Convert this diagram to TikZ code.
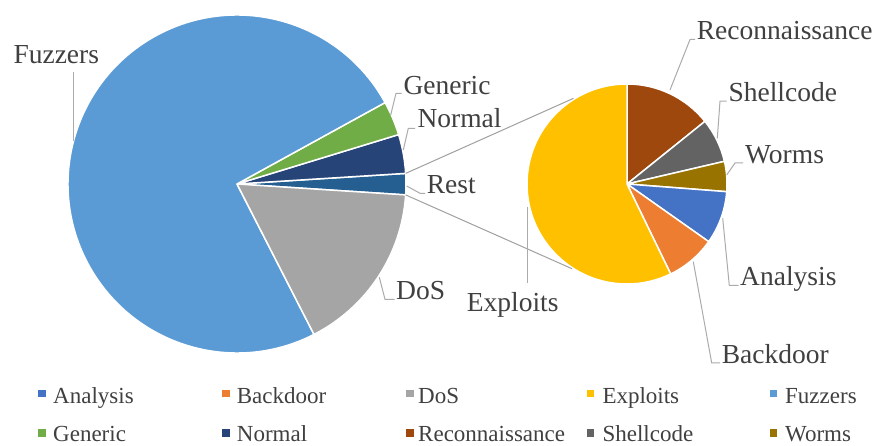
\documentclass[tikz,border=0pt]{standalone}
\usepackage{fontspec}
\setmainfont{Liberation Serif}
\usetikzlibrary{calc}
\definecolor{cAnalysis}{HTML}{4472C4}
\definecolor{cBackdoor}{HTML}{ED7D31}
\definecolor{cDoS}{HTML}{A5A5A5}
\definecolor{cExploits}{HTML}{FFC000}
\definecolor{cFuzzers}{HTML}{5B9BD5}
\definecolor{cGeneric}{HTML}{70AD47}
\definecolor{cNormal}{HTML}{264478}
\definecolor{cRecon}{HTML}{9E480E}
\definecolor{cShell}{HTML}{636363}
\definecolor{cWorms}{HTML}{997300}
\definecolor{cRest}{HTML}{255E91}
\definecolor{txt}{HTML}{404040}
\definecolor{ldr}{HTML}{ABABAB}
\definecolor{conn}{HTML}{A0A0A0}
\def\pieslice#1#2#3#4#5{\filldraw[slice, fill=#1] (#2) -- ++(#3:#5) arc[start angle=#3, end angle=#4, radius=#5] -- cycle;}
\begin{document}
\begin{tikzpicture}[x=1pt,y=1pt,
  lbl/.style={anchor=base west, inner sep=0pt, font=\fontsize{27.5}{30}\selectfont, text=txt},
  leg/.style={anchor=base west, inner sep=0pt, font=\fontsize{23}{25}\selectfont, text=txt},
  mk/.style={minimum size=7.5pt, inner sep=0pt, draw=none},
  leader/.style={draw=ldr, line width=1pt},
  connline/.style={draw=conn, line width=1pt},
  slice/.style={draw=white, line width=1.5pt, line join=round}]
\useasboundingbox (0,0) rectangle (879,445);
\fill[white] (0,0) rectangle (879,445);
% centres
\coordinate (bigc) at (237,261);
\coordinate (smc) at (627,261);
% big pie
\pieslice{cRest}{bigc}{-3.7}{3.6}{169}
\pieslice{cNormal}{bigc}{3.6}{17.0}{169}
\pieslice{cGeneric}{bigc}{17.0}{28.8}{169}
\pieslice{cFuzzers}{bigc}{28.8}{297.1}{169}
\pieslice{cDoS}{bigc}{297.1}{356.3}{169}
% small pie
\pieslice{cRecon}{smc}{38.8}{90}{100}
\pieslice{cShell}{smc}{13.1}{38.8}{100}
\pieslice{cWorms}{smc}{-4.4}{13.1}{100}
\pieslice{cAnalysis}{smc}{-35.2}{-4.4}{100}
\pieslice{cBackdoor}{smc}{-64.1}{-35.2}{100}
\pieslice{cExploits}{smc}{90}{295.9}{100}
% connector lines between pies
\coordinate (bt) at ($(bigc)+(3.6:169)$);
\coordinate (bb) at ($(bigc)+(-3.7:169)$);
\coordinate (st) at ($(smc)+(122:101)$);
\coordinate (sb) at ($(smc)+(237:101)$);
\draw[connline] (bt) -- (st);
\draw[connline] (bb) -- (sb);
% labels
\node[lbl] (lFuzzers) at (13.3,381.7) {Fuzzers};
\node[lbl] (lGeneric) at (403.3,350.7) {Generic};
\node[lbl] (lNormal) at (417.3,317.3) {Normal};
\node[lbl] (lRest) at (426.7,251) {Rest};
\node[lbl] (lDoS) at (396,145) {DoS};
\node[lbl] (lExploits) at (466.7,133.3) {Exploits};
\node[lbl] (lRecon) at (696.7,405) {Reconnaissance};
\node[lbl] (lShell) at (728.3,343.3) {Shellcode};
\node[lbl] (lWorms) at (745,281.7) {Worms};
\node[lbl] (lAnalysis) at (740,159) {Analysis};
\node[lbl] (lBackdoor) at (721.7,81.7) {Backdoor};
% leader points
\coordinate (pFuzzers) at (73.3,304);
\coordinate (kFuzzers) at (73.3,373.3);
\draw[leader] (kFuzzers) -- (pFuzzers);
\coordinate (pGeneric) at (390.7,330);
\coordinate (kGeneric) at (396,351.7);
\draw[leader] (pGeneric) -- (kGeneric) -- (401.7,351.7);
\coordinate (pNormal) at (403.3,295);
\coordinate (kNormal) at (408.3,316.7);
\draw[leader] (pNormal) -- (kNormal) -- (415,316.7);
\coordinate (pRest) at (406.7,259);
\coordinate (kRest) at (420,251.7);
\draw[leader] (pRest) -- (kRest) -- (425,251.7);
\coordinate (pDoS) at (379.3,167.7);
\coordinate (kDoS) at (385,145.7);
\draw[leader] (pDoS) -- (kDoS) -- (394.5,145.7);
\coordinate (pExploits) at (527.3,238.3);
\coordinate (kExploits) at (527.3,161.7);
\draw[leader] (pExploits) -- (kExploits);
\coordinate (pRecon) at (670,355);
\coordinate (kRecon) at (690,405.5);
\draw[leader] (pRecon) -- (kRecon) -- (695,405.5);
\coordinate (pShell) at (717.3,306.7);
\coordinate (kShell) at (720,343.8);
\draw[leader] (pShell) -- (kShell) -- (726.5,343.8);
\coordinate (pWorms) at (726.7,270);
\coordinate (kWorms) at (735,282);
\draw[leader] (pWorms) -- (kWorms) -- (743,282);
\coordinate (pAnalysis) at (722.7,226.7);
\coordinate (kAnalysis) at (729.3,159.5);
\draw[leader] (pAnalysis) -- (kAnalysis) -- (738.5,159.5);
\coordinate (pBackdoor) at (693.3,183.3);
\coordinate (kBackdoor) at (711.7,82);
\draw[leader] (pBackdoor) -- (kBackdoor) -- (720,82);
% legend
\node[mk, fill=cAnalysis] (mAnalysis) at (42,51.3) {};
\node[leg] (tAnalysis) at (53,41.7) {Analysis};
\node[mk, fill=cBackdoor] (mBackdoor) at (226,51.3) {};
\node[leg] (tBackdoor) at (236.7,41.7) {Backdoor};
\node[mk, fill=cDoS] (mDoS) at (410,51.3) {};
\node[leg] (tDoS) at (418,41.7) {DoS};
\node[mk, fill=cExploits] (mExploits) at (590.5,51.3) {};
\node[leg] (tExploits) at (602.3,41.7) {Exploits};
\node[mk, fill=cFuzzers] (mFuzzers) at (773.5,51.3) {};
\node[leg] (tFuzzers) at (785,41.7) {Fuzzers};
\node[mk, fill=cGeneric] (mGeneric) at (42,12) {};
\node[leg] (tGeneric) at (53,3.3) {Generic};
\node[mk, fill=cNormal] (mNormal) at (226,12) {};
\node[leg] (tNormal) at (236.7,3.3) {Normal};
\node[mk, fill=cRecon] (mRecon) at (410,12) {};
\node[leg] (tRecon) at (418,3.3) {Reconnaissance};
\node[mk, fill=cShell] (mShell) at (590.5,12) {};
\node[leg] (tShell) at (602.3,3.3) {Shellcode};
\node[mk, fill=cWorms] (mWorms) at (773.5,12) {};
\node[leg] (tWorms) at (785,3.3) {Worms};
\end{tikzpicture}
\end{document}
